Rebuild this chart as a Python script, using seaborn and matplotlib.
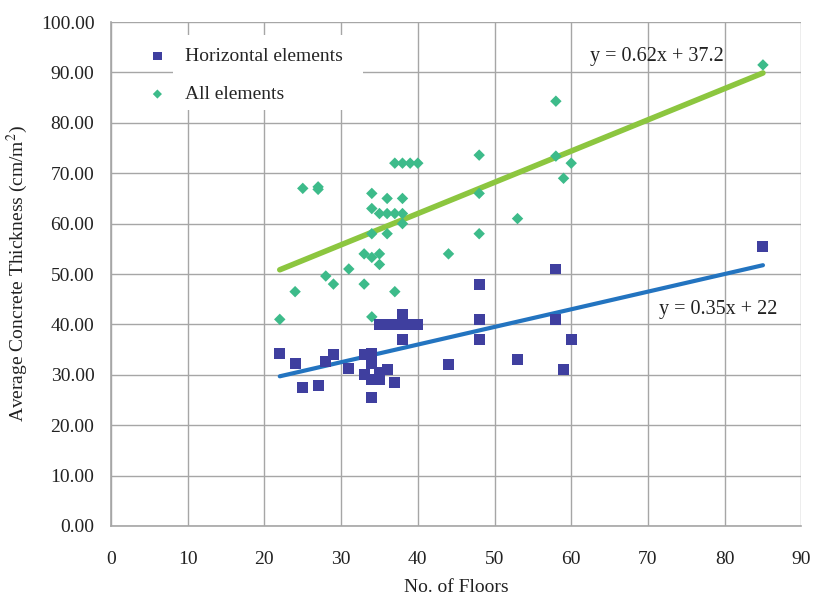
import numpy as np
import pandas as pd
import matplotlib
matplotlib.use("Agg")
import matplotlib.pyplot as plt
from matplotlib.patches import Rectangle
import seaborn as sns

# Horizontal elements: floors vs average concrete thickness
horiz_floors = [22, 24, 25, 27, 28, 29, 31, 33, 33, 34, 34, 34, 34, 35, 35, 36, 37,
                35, 36, 37, 38, 39, 40, 38, 38, 44, 48, 48, 48, 53, 58, 58, 59, 60, 85]
horiz_thick = [34.3, 32.3, 27.5, 27.8, 32.7, 34.0, 31.3, 34.0, 30.0, 34.3, 32.3, 29.0, 25.5,
               29.0, 30.5, 31.0, 28.4, 40.0, 40.0, 40.0, 40.0, 40.0, 40.0, 42.0, 37.0,
               32.0, 48.0, 41.0, 37.0, 33.0, 51.0, 41.0, 31.0, 37.0, 55.4]

# All elements: floors vs average concrete thickness
all_floors = [22, 24, 25, 27, 27, 28, 29, 31, 33, 33, 34, 34, 34, 34, 34, 35, 35, 35, 36, 36,
              36, 37, 37, 37, 38, 38, 38, 38, 39, 40, 44, 48, 48, 48, 53, 58, 58, 59, 60, 85]
all_thick = [41.0, 46.5, 67.0, 67.3, 66.8, 49.6, 48.0, 51.0, 48.0, 54.0, 41.5, 53.3, 58.0, 63.0,
             66.0, 54.0, 51.9, 62.0, 62.0, 58.0, 65.0, 62.0, 46.5, 72.0, 72.0, 62.0, 65.0, 60.0,
             72.0, 72.0, 54.0, 73.6, 66.0, 58.0, 61.0, 84.3, 73.4, 69.0, 72.0, 91.5]

# Linear trend lines (slope, intercept) and their labels
horiz_fit = (0.35, 22.0)
all_fit = (0.62, 37.2)
horiz_eq = "y = 0.35x + 22"
all_eq = "y = 0.62x + 37.2"

x_ticks = list(range(0, 91, 10))
y_ticks = list(range(0, 101, 10))

sns.set_theme(style="white")
plt.rcParams["font.family"] = ["Liberation Serif", "DejaVu Serif"]
plt.rcParams["mathtext.fontset"] = "stix"

sq_color = "#3f3f9f"
dm_color = "#3dbb8a"
blue_line = "#2374c0"
green_line = "#8cc63f"
grid_col = "#a6a6a6"
text_col = "#222222"

fig = plt.figure(figsize=(8.14, 5.97), dpi=100)
ax = fig.add_axes([0.1364, 0.119, 0.848, 0.844])

df_h = pd.DataFrame({"floors": horiz_floors, "thick": horiz_thick})
df_a = pd.DataFrame({"floors": all_floors, "thick": all_thick})

sns.scatterplot(data=df_a, x="floors", y="thick", marker="D", s=34, color=dm_color,
                edgecolor="none", ax=ax, zorder=3, label="All elements")
sns.scatterplot(data=df_h, x="floors", y="thick", marker="s", s=62, color=sq_color,
                edgecolor="none", ax=ax, zorder=4, label="Horizontal elements")

# trend lines across the range of floors
xa = np.array([min(all_floors), max(all_floors)])
xh = np.array([min(horiz_floors), max(horiz_floors)])
sns.lineplot(x=xa, y=all_fit[0] * xa + all_fit[1], color=green_line, linewidth=4,
             ax=ax, zorder=2, legend=False)
sns.lineplot(x=xh, y=horiz_fit[0] * xh + horiz_fit[1], color=blue_line, linewidth=3,
             ax=ax, zorder=2, legend=False)

ax.text(62.5, 93.2, all_eq, fontsize=14.5, va="center", ha="left", color=text_col)
ax.text(71.5, 42.9, horiz_eq, fontsize=14.5, va="center", ha="left", color=text_col)

ax.set_xlim(0, 90)
ax.set_ylim(0, 100)
ax.set_xticks(x_ticks)
ax.set_yticks(y_ticks)
ax.set_yticklabels([f"{v:.2f}" for v in y_ticks])
ax.grid(True, color=grid_col, linewidth=1)
ax.set_axisbelow(True)
for side in ["top", "right"]:
    ax.spines[side].set_visible(False)
for side in ["left", "bottom"]:
    ax.spines[side].set_color(grid_col)
    ax.spines[side].set_linewidth(1.2)
ax.tick_params(axis="both", which="major", length=6, width=1, color=grid_col,
               labelsize=14, labelcolor=text_col, direction="out", pad=6)
ax.tick_params(axis="x", pad=12)

ax.set_xlabel("No. of Floors", fontsize=14, color=text_col, labelpad=8)
ax.set_ylabel("Average Concrete Thickness (cm/m$^2$)", fontsize=14, color=text_col,
              labelpad=8)

# white panel behind the legend labels
ax.add_patch(Rectangle((0.09, 0.825), 0.275, 0.15, transform=ax.transAxes,
                       facecolor="white", edgecolor="none", zorder=1.5))

handles, labels = ax.get_legend_handles_labels()
order = [labels.index("Horizontal elements"), labels.index("All elements")]
leg = ax.legend([handles[i] for i in order], [labels[i] for i in order],
                loc="upper left", bbox_to_anchor=(0.008, 0.992), frameon=False,
                fontsize=14, labelspacing=1.05, handletextpad=0.4, borderpad=0.6,
                markerscale=0.8)
leg.set_zorder(5)

fig.savefig("out.png", dpi=100)
